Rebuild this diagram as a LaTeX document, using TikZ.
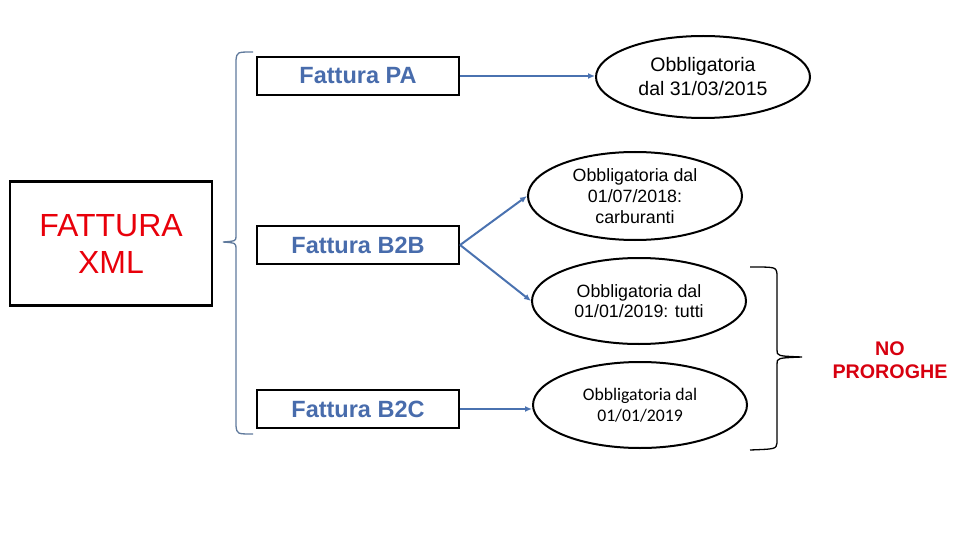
\documentclass[tikz,border=0pt]{standalone}
\usepackage{fontspec}
\setmainfont{Liberation Sans}
\newfontfamily\calfont{Carlito}
\usetikzlibrary{shapes.geometric,arrows.meta}
\definecolor{txtblue}{RGB}{72,108,172}
\definecolor{arrblue}{RGB}{74,114,176}
\definecolor{bracegray}{RGB}{96,122,156}
\definecolor{xmlred}{RGB}{232,0,10}
\definecolor{npred}{RGB}{215,0,15}
\begin{document}
\begin{tikzpicture}[x=1pt,y=-1pt,
  fbox/.style={draw=black,line width=2.2pt,minimum width=202pt,minimum height=38pt,inner sep=0pt,
    text=txtblue,font=\fontsize{23.5}{28}\selectfont\bfseries},
  oval/.style={draw=black,line width=2pt,ellipse,inner sep=0pt,minimum width=214pt,align=center},
  conn/.style={draw=arrblue,line width=2pt,-{Latex[length=7pt,width=6pt]}},
  bracel/.style={draw=bracegray,line width=1.3pt},
  bracer/.style={draw=black,line width=1.3pt}]
\useasboundingbox (0,0) rectangle (960,540);
\node[draw=black,line width=2.2pt,minimum width=202pt,minimum height=124pt,inner sep=0pt,
  text=xmlred,align=center,font=\fontsize{32}{37}\selectfont] (xml) at (111,243.5) {FATTURA\\XML};
\node[fbox] (pa) at (358,76) {Fattura PA};
\node[fbox] (b2b) at (358,245) {Fattura B2B};
\node[fbox] (b2c) at (358,409) {Fattura B2C};
\node[oval,minimum height=82pt,font=\fontsize{19.5}{24}\selectfont] (e1) at (703,77) {Obbligatoria\\dal 31/03/2015};
\node[oval,minimum height=88pt,font=\fontsize{17.8}{21}\selectfont] (e2) at (635,196) {Obbligatoria dal\\01/07/2018:\\carburanti};
\node[oval,minimum height=86pt,font=\fontsize{17.8}{20.5}\selectfont] (e3) at (639,301) {Obbligatoria dal\\01/01/2019: tutti};
\node[oval,minimum height=86pt,font=\calfont\fontsize{17.7}{21}\selectfont] (e4) at (640,405) {Obbligatoria dal\\01/01/2019};
\node[text=npred,align=center,font=\fontsize{19.7}{23.5}\selectfont\bfseries] (np) at (890,360) {NO\\PROROGHE};
\draw[conn] (pa.east) -- (pa.east -| e1.west);
\draw[conn] (b2b.east) -- (e2.west);
\draw[conn] (b2b.east) -- (e3.west);
\draw[conn] (b2c.east) -- (b2c.east -| e4.west);
\coordinate (lb) at (223,242);
\draw[bracel] (253,52) .. controls (237,52) .. (236,60) -- (236,236) .. controls (236,241) .. (lb)
  .. controls (236,243) .. (236,249) -- (236,426) .. controls (237,434) .. (253,434);
\coordinate (rb) at (802,357);
\draw[bracer] (750,267) .. controls (776,267) .. (777,274) -- (777,350) .. controls (777,356) .. (rb)
  .. controls (777,358) .. (777,364) -- (777,443) .. controls (776,449) .. (750,450);
\end{tikzpicture}
\end{document}
